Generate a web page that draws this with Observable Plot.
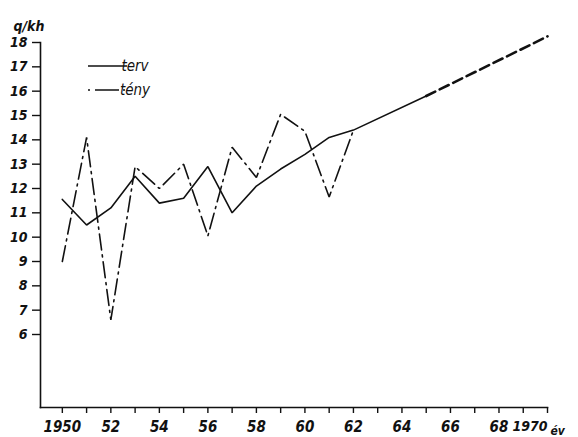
<!DOCTYPE html>
<html>
<head>
<meta charset="utf-8">
<script src="https://cdn.jsdelivr.net/npm/d3@7"></script>
<script src="https://cdn.jsdelivr.net/npm/@observablehq/plot@0.6"></script>
<style>
  html, body { margin: 0; padding: 0; background: #fff; }
  svg { font-family: "DejaVu Sans Condensed", "Liberation Sans Narrow", sans-serif; }
</style>
</head>
<body>
<div id="chart"></div>
<script>
// Plan ("terv") – solid part, then planned (dashed) continuation
const tervYears  = [1950, 1951, 1952, 1953, 1954, 1955, 1956, 1957, 1958, 1959, 1960, 1961, 1962, 1965];
const tervValues = [11.55, 10.5, 11.2, 12.5, 11.4, 11.6, 12.9, 11.0, 12.1, 12.8, 13.4, 14.1, 14.4, 15.8];
const planYears  = [1965, 1970];
const planValues = [15.8, 18.25];
// Actual ("tény")
const tenyYears  = [1950, 1951, 1952, 1953, 1954, 1955, 1956, 1957, 1958, 1959, 1960, 1961, 1962];
const tenyValues = [9.0, 14.1, 6.6, 12.9, 12.0, 13.0, 10.05, 13.7, 12.45, 15.05, 14.35, 11.65, 14.4];
// Axis ticks
const xTicks = d3.range(1950, 1971);
const xLabelYears = [1950, 1952, 1954, 1956, 1958, 1960, 1962, 1964, 1966, 1968, 1970];
const xLabelText  = ["1950", "52", "54", "56", "58", "60", "62", "64", "66", "68", "1970"];
const yTicks = [6, 7, 8, 9, 10, 11, 12, 13, 14, 15, 16, 17, 18];
const yUnit = "q/kh";
const xUnit = "év";
const legendNames = ["terv", "tény"];

const terv = tervYears.map((y, i) => ({year: y, value: tervValues[i]}));
const plan = planYears.map((y, i) => ({year: y, value: planValues[i]}));
const teny = tenyYears.map((y, i) => ({year: y, value: tenyValues[i]}));

const ink = "#111";
const fontFamily = '"DejaVu Sans Condensed", "Liberation Sans Narrow", sans-serif';
const lastYear = xLabelYears[xLabelYears.length - 1];
const labelFor = d => { const i = xLabelYears.indexOf(d); return i >= 0 ? xLabelText[i] : ""; };

const chart = Plot.plot({
  width: 578,
  height: 437,
  marginLeft: 40,
  marginRight: 31,
  marginTop: 42,
  marginBottom: 30,
  style: {fontFamily, fontSize: "14px", fontStyle: "italic", color: ink, background: "#fff"},
  x: {domain: [1949.1, 1970]},
  y: {domain: [3, 18]},
  marks: [
    Plot.frame({anchor: "left", stroke: ink, strokeWidth: 1.6}),
    Plot.frame({anchor: "bottom", stroke: ink, strokeWidth: 1.6}),
    Plot.axisX({ticks: xTicks, tickSize: 6, tickPadding: 8, stroke: ink, strokeWidth: 1.4,
      tickFormat: d => d === lastYear ? "" : labelFor(d),
      label: null, fontSize: 15, fontStyle: "italic", fontWeight: "bold"}),
    Plot.axisX({ticks: [lastYear], tickSize: 0, tickPadding: 14, textAnchor: "end", dx: 0,
      tickFormat: labelFor, label: null, fontSize: 14, fontStyle: "italic", fontWeight: "bold"}),
    Plot.axisY({ticks: yTicks, tickSize: 8, tickPadding: 5, stroke: ink, strokeWidth: 1.4,
      label: null, fontSize: 14, fontStyle: "italic", fontWeight: "bold"}),
    Plot.text([yUnit], {frameAnchor: "top-left", dx: -27, dy: -21, textAnchor: "start",
      fontSize: 14, fontStyle: "italic", fontWeight: "bold", fill: ink}),
    Plot.text([xUnit], {frameAnchor: "bottom-right", dx: 3, dy: 27, textAnchor: "start",
      lineAnchor: "bottom", fontSize: 12, fontStyle: "italic", fontWeight: "bold", fill: ink}),
    Plot.line(teny, {x: "year", y: "value", stroke: ink, strokeWidth: 1.6,
      strokeDasharray: "16,5,2,5", strokeLinejoin: "miter"}),
    Plot.line(terv, {x: "year", y: "value", stroke: ink, strokeWidth: 1.6, strokeLinejoin: "miter"}),
    Plot.line(plan, {x: "year", y: "value", stroke: ink, strokeWidth: 2.6, strokeDasharray: "10,5"})
  ]
});

// Legend (inside the plot area, top-left)
const svg = d3.select(chart);
const lg = svg.append("g").attr("font-family", fontFamily).attr("font-style", "italic")
  .attr("font-size", 15).attr("fill", ink);
const styles = [{dash: null}, {dash: "2,5,24,4"}];
legendNames.forEach((name, i) => {
  const y = 66 + i * 24;
  lg.append("line").attr("x1", 88).attr("x2", 127).attr("y1", y).attr("y2", y)
    .attr("stroke", ink).attr("stroke-width", 1.6)
    .attr("stroke-dasharray", styles[i].dash);
  lg.append("text").attr("x", 135).attr("y", y).attr("dy", "0.35em").text(name);
});

document.getElementById("chart").appendChild(chart);
</script>
</body>
</html>
